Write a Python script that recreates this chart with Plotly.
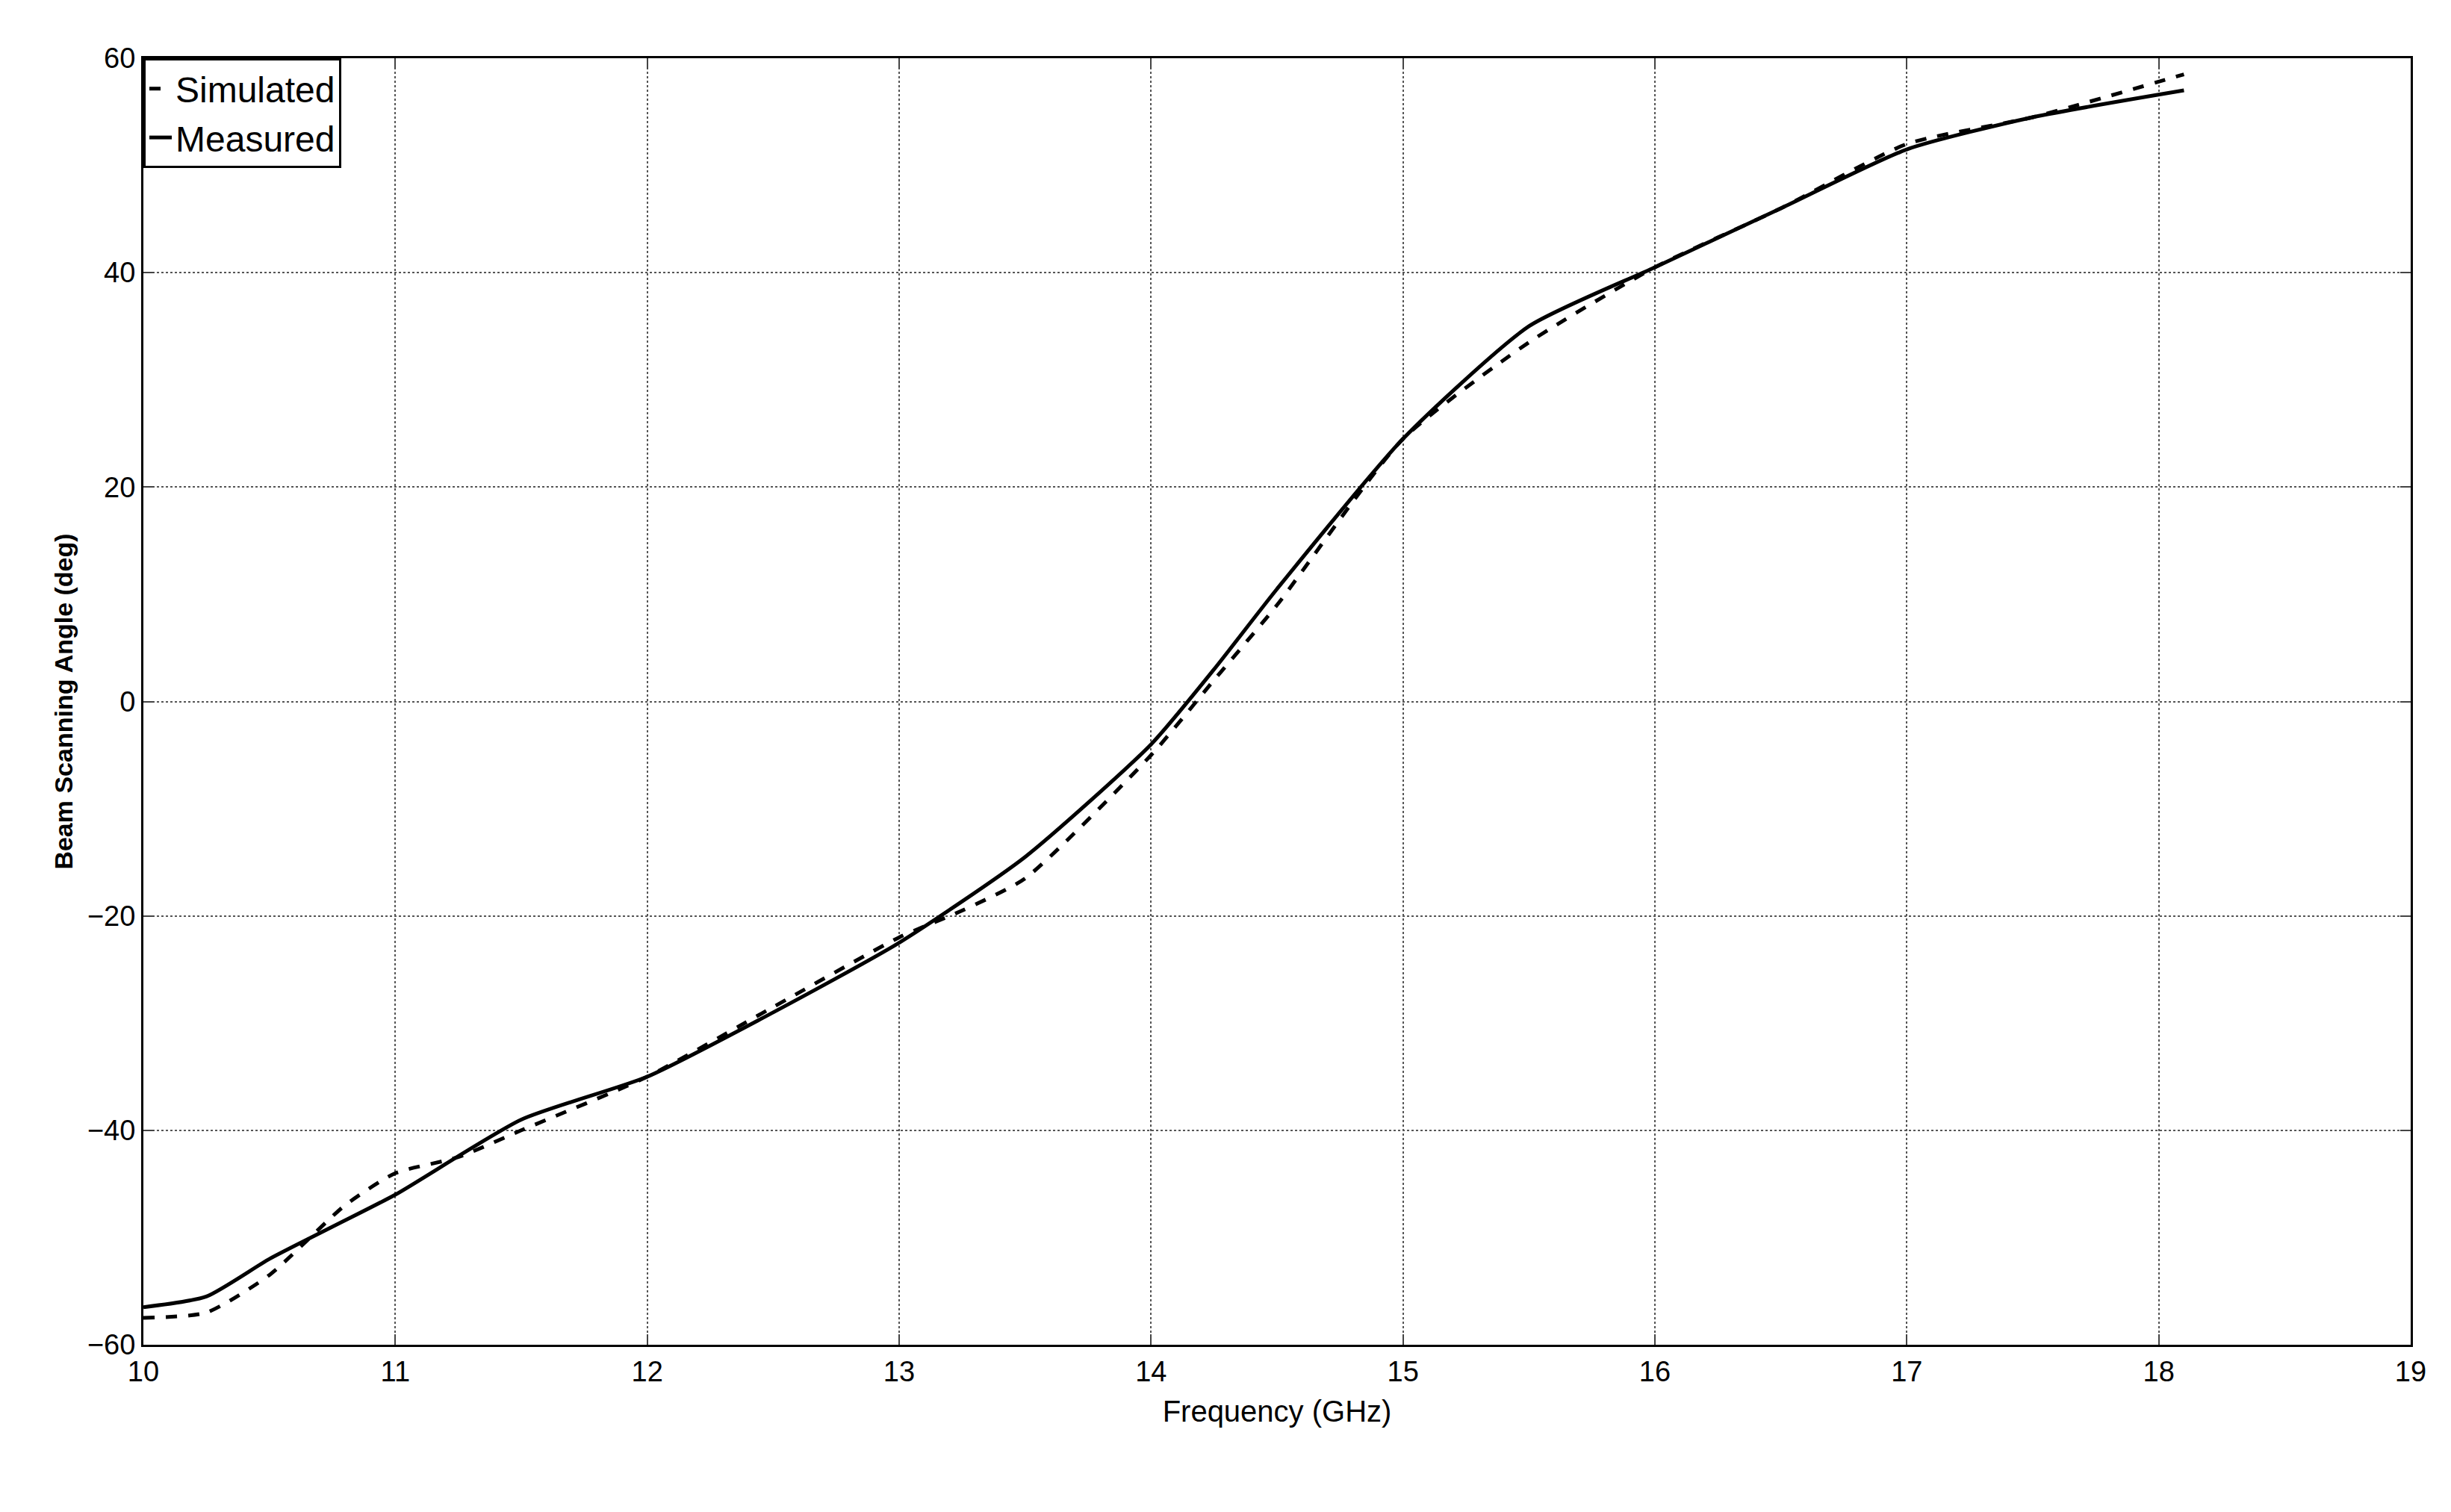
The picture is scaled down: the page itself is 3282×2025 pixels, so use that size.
import plotly.graph_objects as go

freq_meas = [10, 10.25, 10.5, 10.75, 11, 11.5, 12, 12.5, 13, 13.5, 14, 14.25, 14.5, 15, 15.5, 16, 16.5, 17, 17.5, 18.1]
meas = [-56.5, -55.5, -52, -49, -46, -39, -35, -29, -22.5, -14.5, -4, 3, 10.5, 24.5, 35, 40.5, 46, 51.5, 54.5, 57]
freq_sim = [10, 10.25, 10.5, 10.8, 11, 11.25, 11.5, 12, 12.5, 13, 13.25, 13.5, 14, 14.25, 14.5, 15, 15.5, 16, 16.5, 17, 17.5, 18.1]
sim = [-57.5, -57, -53.5, -47, -44, -42.5, -40, -35, -28.5, -22, -19.5, -16.5, -5, 2, 9, 24.5, 33.5, 40.5, 46, 52, 54.5, 58.5]
xticks = list(range(10, 20))
yticks = list(range(-60, 61, 20))

fig = go.Figure()
fig.add_trace(go.Scatter(x=freq_sim, y=sim, mode="lines", name="Simulated",
                         line=dict(color="black", width=5, dash="dash", shape="spline", smoothing=0.6)))
fig.add_trace(go.Scatter(x=freq_meas, y=meas, mode="lines", name="Measured",
                         line=dict(color="black", width=5, shape="spline", smoothing=0.6)))

ax = dict(showline=True, linecolor="black", linewidth=3, mirror="ticks", ticks="inside",
          ticklen=14, tickwidth=2, showgrid=True, gridcolor="#555", griddash="dot", gridwidth=2,
          zeroline=False, tickfont=dict(size=38, family="Liberation Sans", color="black"))
fig.update_xaxes(range=[10, 19], tickvals=xticks, title=dict(text="Frequency (GHz)", font=dict(size=40, color="black"), standoff=20), **ax)
fig.update_yaxes(range=[-60, 60], tickvals=yticks, title=dict(text="<b>Beam Scanning Angle (deg)</b>", font=dict(size=34, color="black"), standoff=10), **ax)
fig.update_layout(width=3282, height=2025, plot_bgcolor="white", paper_bgcolor="white",
                  font=dict(family="Liberation Sans"),
                  margin=dict(l=184, r=62, t=70, b=232),
                  legend=dict(x=0, y=1, xanchor="left", yanchor="top", bgcolor="white",
                              bordercolor="black", borderwidth=3, tracegroupgap=10,
                              font=dict(size=48, color="black")))
fig.write_html("out.html")
